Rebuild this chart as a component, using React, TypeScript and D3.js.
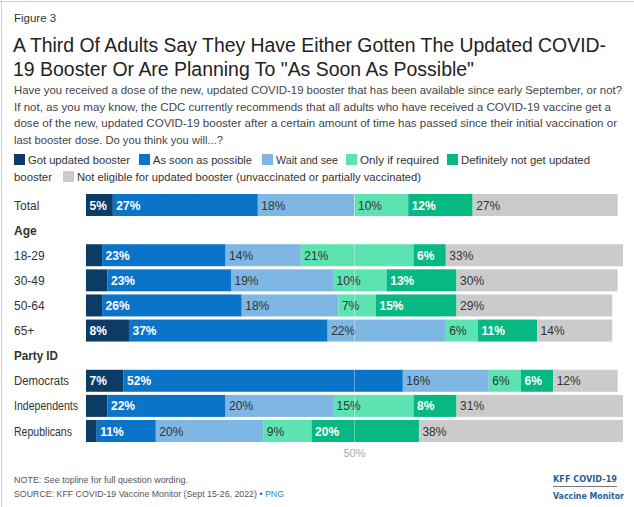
import React from "react";
import * as d3 from "d3";

const categories = ["Total", "Age", "18-29", "30-49", "50-64", "65+", "Party ID", "Democrats", "Independents", "Republicans"];
const headers = ["Age", "Party ID"];
const seriesNames = [
  "Got updated booster",
  "As soon as possible",
  "Wait and see",
  "Only if required",
  "Definitely not get updated booster",
  "Not eligible for updated booster (unvaccinated or partially vaccinated)",
];
const gotUpdated = [5, null, 3, 4, 3, 8, null, 7, 4, 2];
const asSoon = [27, null, 23, 23, 26, 37, null, 52, 22, 11];
const waitSee = [18, null, 14, 19, 18, 22, null, 16, 20, 20];
const onlyRequired = [10, null, 21, 10, 7, 6, null, 6, 15, 9];
const definitelyNot = [12, null, 6, 13, 15, 11, null, 6, 8, 20];
const notEligible = [27, null, 33, 30, 29, 14, null, 12, 31, 38];
const series = [gotUpdated, asSoon, waitSee, onlyRequired, definitelyNot, notEligible];
const colors = ["#0b3c66", "#0a74c9", "#7eb7e4", "#5ce3b1", "#07b883", "#cbcbcb"];
const darkSeg = [true, true, false, false, true, false];
const xTicks = [50];

const subtitle = [
  "Have you received a dose of the new, updated COVID-19 booster that has been available since early September, or not?",
  "If not, as you may know, the CDC currently recommends that all adults who have received a COVID-19 vaccine get a",
  "dose of the new, updated COVID-19 booster after a certain amount of time has passed since their initial vaccination or",
  "last booster dose. Do you think you will...?",
];
const subtitleW = [608, 597, 603, 209];

const FONT = "Liberation Sans, Arial, sans-serif";

export default function App() {
  const x = d3.scaleLinear().domain([0, 100]).range([86, 623]);
  const y = d3.scalePoint().domain(categories).range([205, 431]);
  const barH = 22;

  const legendLine1 = [
    { i: 0, sx: 14, w: 102 },
    { i: 1, sx: 139, w: 99 },
    { i: 2, sx: 262, w: 62 },
    { i: 3, sx: 346, w: 79 },
    { i: 4, sx: 447, w: 129 },
  ];
  const legendText = ["Got updated booster", "As soon as possible", "Wait and see", "Only if required", "Definitely not get updated"];
  const labelW: Record<string, number> = { Independents: 64, Republicans: 58, Democrats: 55, "Party ID": 44 };

  return (
    <svg width={634} height={507} style={{ position: "absolute", left: 0, top: 0, background: "#fff" }} fontFamily={FONT}>
      <rect x={0} y={0} width={634} height={507} fill="#fff" />
      <line x1={0} x2={634} y1={1.5} y2={1.5} stroke="#cfcfcf" />
      <line x1={1.5} x2={1.5} y1={0} y2={507} stroke="#cfcfcf" />
      <text x={14} y={22} fontSize={11.5} fill="#333">Figure 3</text>
      <text x={13} y={52} fontSize={20} fill="#222" textLength={593} lengthAdjust="spacingAndGlyphs">A Third Of Adults Say They Have Either Gotten The Updated COVID-</text>
      <text x={13} y={76} fontSize={20} fill="#222" textLength={461} lengthAdjust="spacingAndGlyphs">19 Booster Or Are Planning To "As Soon As Possible"</text>
      {subtitle.map((s, i) => (
        <text key={i} x={14} y={94 + i * 16.5} fontSize={11.6} fill="#444" textLength={subtitleW[i]} lengthAdjust="spacingAndGlyphs">{s}</text>
      ))}
      {legendLine1.map((l, k) => (
        <g key={k}>
          <rect x={l.sx} y={154} width={11} height={11} fill={colors[l.i]} />
          <text x={l.sx + 14} y={163.5} fontSize={11.4} fill="#333" textLength={l.w} lengthAdjust="spacingAndGlyphs">{legendText[k]}</text>
        </g>
      ))}
      <text x={14} y={180.5} fontSize={11.4} fill="#333" textLength={38} lengthAdjust="spacingAndGlyphs">booster</text>
      <rect x={63} y={171} width={11} height={11} fill={colors[5]} />
      <text x={77} y={180.5} fontSize={11.4} fill="#333" textLength={344} lengthAdjust="spacingAndGlyphs">{seriesNames[5]}</text>

      {categories.map((c, ri) => {
        const cy = y(c)!;
        const isHeader = headers.includes(c);
        let acc = 0;
        const lw = labelW[c];
        return (
          <g key={c}>
            <text x={14} y={cy + 4.5} fontSize={12} fill="#333" fontWeight={isHeader ? "bold" : "normal"}
              {...(lw ? { textLength: lw, lengthAdjust: "spacingAndGlyphs" } : {})}>{c}</text>
            {!isHeader && series.map((s, si) => {
              const v = s[ri] as number;
              const x0 = x(acc);
              acc += v;
              const x1 = x(acc);
              return (
                <g key={si}>
                  <rect x={x0} y={cy - barH / 2} width={x1 - x0} height={barH} fill={colors[si]} />
                  {v >= 5 && (
                    <text x={x0 + 3.5} y={cy + 4.5} fontSize={12} fill={darkSeg[si] ? "#fff" : "#333"} fontWeight={darkSeg[si] ? "bold" : "normal"}>{v}%</text>
                  )}
                </g>
              );
            })}
          </g>
        );
      })}
      {xTicks.map((t) => (
        <g key={t}>
          <line x1={x(t)} x2={x(t)} y1={190} y2={444} stroke="#fff" strokeOpacity={0.35} />
          <text x={x(t)} y={457} fontSize={11} fill="#aaa" textAnchor="middle">{t}%</text>
        </g>
      ))}
      <text x={14} y={483} fontSize={9.8} fill="#555" textLength={174} lengthAdjust="spacingAndGlyphs">NOTE: See topline for full question wording.</text>
      <text x={14} y={497} fontSize={9.6} fill="#555" textLength={270} lengthAdjust="spacingAndGlyphs">SOURCE: KFF COVID-19 Vaccine Monitor (Sept 15-26, 2022) • <tspan fill="#2a8cc4">PNG</tspan></text>
      <text x={553} y={482} fontSize={9.5} fontWeight="bold" fill="#1f5f95" fontFamily="DejaVu Sans Condensed, sans-serif" textLength={64} lengthAdjust="spacingAndGlyphs">KFF COVID-19</text>
      <line x1={553} x2={617} y1={486.5} y2={486.5} stroke="#555" strokeWidth={0.8} />
      <text x={553} y={499} fontSize={9.5} fontWeight="bold" fill="#1f5f95" fontFamily="DejaVu Sans Condensed, sans-serif" textLength={71} lengthAdjust="spacingAndGlyphs">Vaccine Monitor</text>
    </svg>
  );
}
